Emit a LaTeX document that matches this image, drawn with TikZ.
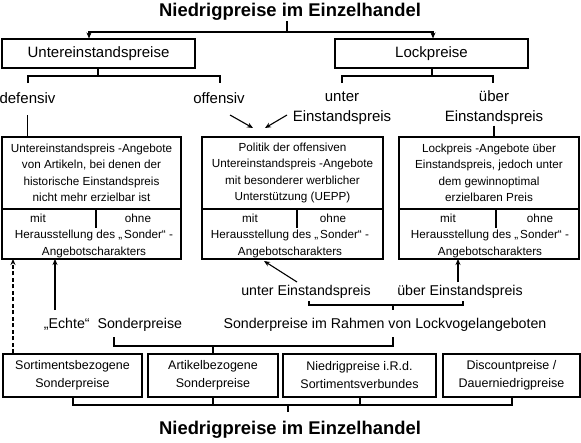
\documentclass[tikz,border=0pt]{standalone}
\usepackage{fontspec}
\setmainfont{Liberation Sans}
\usetikzlibrary{arrows.meta,calc}
\begin{document}
\begin{tikzpicture}[x=1pt,y=-1pt, line width=1.1pt,
 box/.style={draw, rectangle, inner sep=0pt, align=center},
 lbl/.style={inner sep=0pt, font=\fontsize{15}{20}\selectfont, align=center},
 lbls/.style={inner sep=0pt, font=\fontsize{14.2}{18}\selectfont, align=center},
 small/.style={inner sep=0pt, font=\fontsize{11.7}{16.5}\selectfont, align=center},
 bsmall/.style={font=\fontsize{12.5}{18}\selectfont},
 tip/.style={-{Stealth[length=6pt,width=5pt]}},
 ttl/.style={inner sep=0pt, font=\bfseries\fontsize{18.4}{22}\selectfont}]
\useasboundingbox (0,0) rectangle (581,442);

% top title
\node[ttl] (T1) at (290,12) {Niedrigpreise im Einzelhandel};
\node[box, minimum width=193, minimum height=29, lbl] (U) at (98.5,53.5) {Untereinstandspreise};
\node[box, minimum width=193, minimum height=29, lbl] (L) at (431.5,53.5) {Lockpreise};
\coordinate (t0) at (287,32);
\draw (T1.south -| t0) -- (t0);
\draw[tip] (t0) -| (U.north -| 89,0);
\draw[tip] (t0) -| (L.north -| 433,0);

% second level labels
\node[lbl] (def) at (27.5,98) {defensiv};
\node[lbl] (off) at (219,98) {offensiv};
\node[lbl] (uE) at (342,108) {unter\\Einstandspreis};
\node[lbl] (oE) at (494,108) {über\\Einstandspreis};

\coordinate (ub) at (98,76);
\draw (U.south -| ub) -- (ub);
\draw (28,83) -- (28,76) -- (220,76) -- (220,83);
\coordinate (lb) at (432,76);
\draw (L.south -| lb) -- (lb);
\draw (342,83) -- (342,76) -- (493,76) -- (493,83);

% big boxes
\node[box, small, minimum width=179, minimum height=72] (b1t) at (91.5,173)
 {Untereinstandspreis -Angebote\\von Artikeln, bei denen der\\historische Einstandspreis\\nicht mehr erzielbar ist};
\node[box, minimum width=179, minimum height=50] (b1b) at (91.5,234) {};
\node[box, small, minimum width=181, minimum height=72] (b2t) at (292.5,173)
 {Politik der offensiven\\Untereinstandspreis -Angebote\\mit besonderer werblicher\\Unterstützung (UEPP)};
\node[box, minimum width=181, minimum height=50] (b2b) at (292.5,234) {};
\node[box, small, minimum width=180, minimum height=72] (b3t) at (489,173)
 {Lockpreis -Angebote über\\Einstandspreis, jedoch unter\\dem gewinnoptimal\\erzielbaren Preis};
\node[box, minimum width=180, minimum height=50] (b3b) at (489,234) {};

\foreach \n/\xm/\xo/\xd/\xh in {1/38/138/96/94, 2/250/333/297/290, 3/448/540/496/490}{
  \node[small] (mit\n) at (\xm,218) {mit};
  \node[small] (ohne\n) at (\xo,218) {ohne};
  \draw (\xd,209) -- (\xd,228);
  \node[small] (her\n) at (\xh,244) {Herausstellung des „\,Sonder“ -\\Angebotscharakters};
}

% arrows into upper boxes
\draw (def.south |- 0,115) -- (def.south |- b1t.north);
\draw (oE.south) -- (oE.south |- b3t.north);
\coordinate (a1) at (253,128);
\coordinate (a2) at (265,128);
\draw[tip] (230,115) -- (a1);
\draw[tip] (287,115) -- (a2);

% lower labels
\node[lbls] (ue2) at (306,292) {unter Einstandspreis};
\node[lbls] (oe2) at (460,292) {über Einstandspreis};
\node[lbls] (echte) at (113,325) {„Echte“\ \ Sonderpreise};
\node[lbls] (lock) at (385,325) {Sonderpreise im Rahmen von Lockvogelangeboten};

\coordinate (a3) at (264,261);
\draw[tip] (297,282) -- (a3);
\draw[tip] (458,282) -- (458,259);
\draw (309,301) -- (309,305) -- (463,305) -- (463,301);
\draw (393,305) -- (393,310);
\draw[tip] (55,310) -- (55,259);
\draw (114,337) -- (114,346) -- (393,346) -- (393,337);

% bottom boxes
\node[box, bsmall, minimum width=139, minimum height=43] (A) at (72.5,375.5) {Sortimentsbezogene\\Sonderpreise};
\node[box, bsmall, minimum width=130, minimum height=43] (B) at (213,375.5) {Artikelbezogene\\Sonderpreise};
\node[box, bsmall, minimum width=153, minimum height=43] (C) at (359.5,375.5) {Niedrigpreise i.R.d.\\Sortimentsverbundes};
\node[box, bsmall, minimum width=137, minimum height=43] (D) at (511.5,375.5) {Discountpreise /\\Dauerniedrigpreise};

\draw (213,346) -- (B.north);
\draw[tip, dash pattern=on 4pt off 2.5pt] (A.north -| 13,0) -- (13,259);

\draw (A.south -| 73,0) -- (73,405) -- (512,405) -- (D.south -| 512,0);
\draw (B.south) -- (213,405);
\draw (C.south -| 360,0) -- (360,405);
\node[ttl] (T2) at (290,430) {Niedrigpreise im Einzelhandel};
\draw (288,405) -- (288,412);
\end{tikzpicture}
\end{document}
